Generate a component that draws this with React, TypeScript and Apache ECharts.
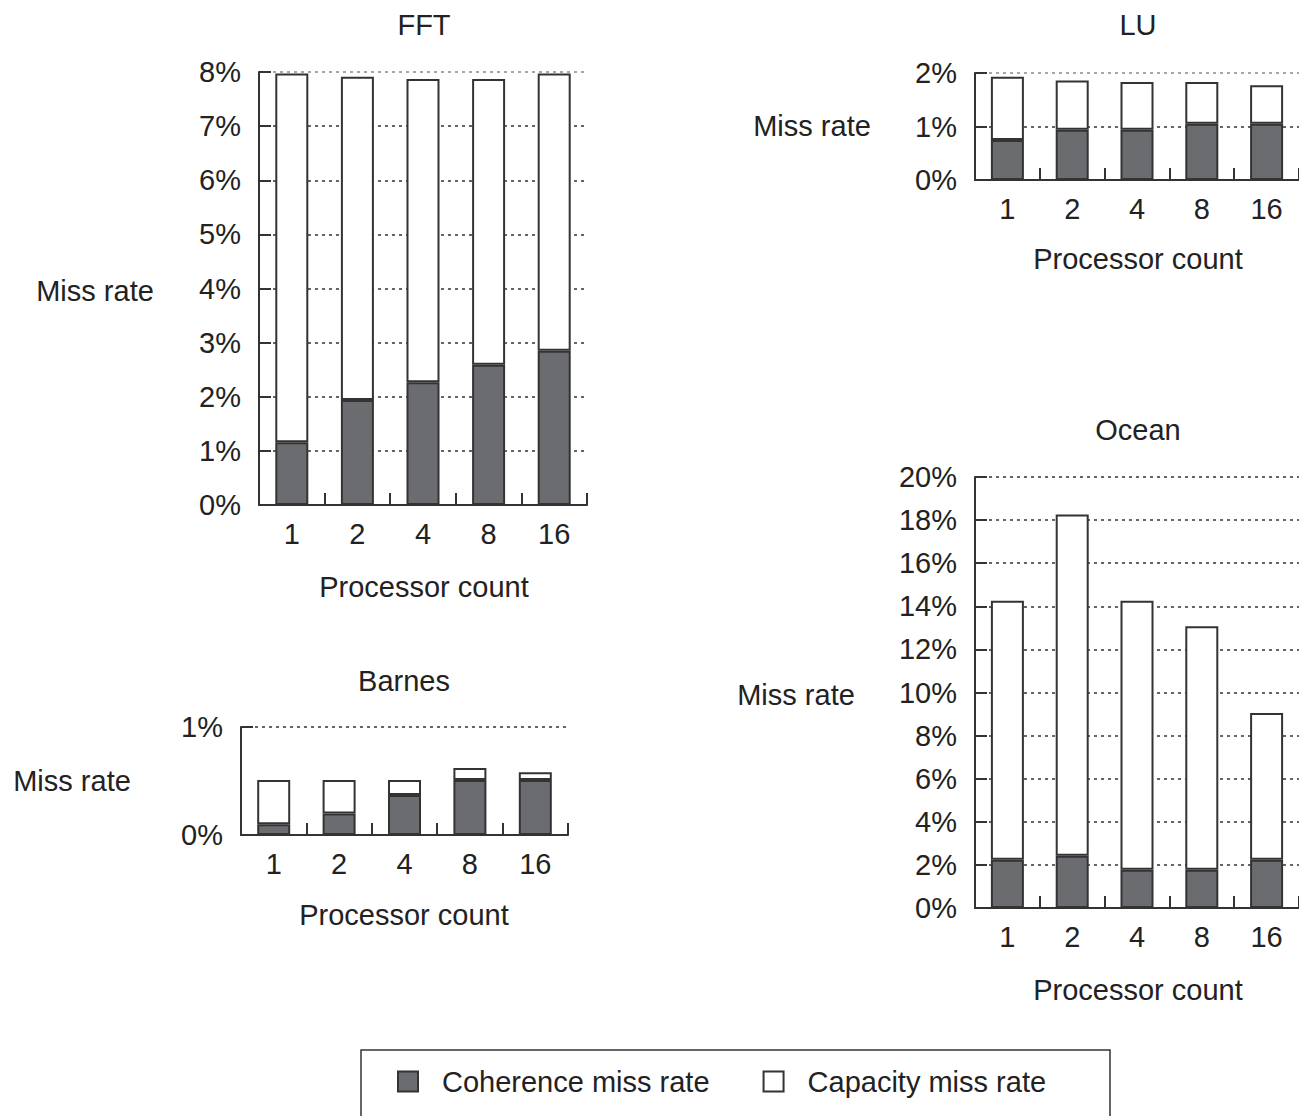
import React, { useEffect, useRef } from "react";
import * as echarts from "echarts";

const categories = ["1", "2", "4", "8", "16"];

const fftCoherence = [1.16, 1.94, 2.27, 2.59, 2.85];
const fftCapacity = [6.81, 5.97, 5.6, 5.28, 5.12];

const luCoherence = [0.75, 0.94, 0.94, 1.05, 1.05];
const luCapacity = [1.18, 0.92, 0.89, 0.78, 0.72];

const barnesCoherence = [0.1, 0.2, 0.37, 0.51, 0.51];
const barnesCapacity = [0.41, 0.31, 0.14, 0.11, 0.07];

const oceanCoherence = [2.24, 2.42, 1.78, 1.78, 2.24];
const oceanCapacity = [12.02, 15.84, 12.48, 11.3, 6.81];

const seriesNames = ["Coherence miss rate", "Capacity miss rate"];
const titles = ["FFT", "LU", "Barnes", "Ocean"];
const yAxisName = "Miss rate";
const xAxisName = "Processor count";

const FONT = '"Liberation Sans", Arial, Helvetica, sans-serif';
const TEXT = "#222";
const LINE = "#333";
const DARK = "#6b6c70";

export default function App() {
  const ref = useRef<HTMLDivElement>(null);

  useEffect(() => {
    if (!ref.current) return;
    const chart = echarts.init(ref.current, null, { renderer: "svg" });

    const panels = [
      { title: titles[0], coh: fftCoherence, cap: fftCapacity, max: 8, interval: 1, left: 259, top: 72, width: 328, height: 433, topGray: true, yNameX: 95, cx: 424 },
      { title: titles[1], coh: luCoherence, cap: luCapacity, max: 2, interval: 1, left: 975, top: 73, width: 325, height: 107, topGray: true, yNameX: 812, cx: 1138 },
      { title: titles[2], coh: barnesCoherence, cap: barnesCapacity, max: 1, interval: 1, left: 241, top: 727, width: 327, height: 108, topGray: false, yNameX: 72, cx: 404 },
      { title: titles[3], coh: oceanCoherence, cap: oceanCapacity, max: 20, interval: 2, left: 975, top: 477, width: 325, height: 431, topGray: false, yNameX: 796, cx: 1138 },
    ];
    const titleY = [25, 25, 681, 430];
    const xNameY = [587, 259, 915, 990];
    const yNameY = [291, 126, 781, 695];

    const grid: any[] = [];
    const xAxis: any[] = [];
    const yAxis: any[] = [];
    const series: any[] = [];
    const graphic: any[] = [];

    panels.forEach((p, i) => {
      grid.push({ left: p.left, top: p.top, width: p.width, height: p.height, containLabel: false });
      xAxis.push({
        type: "category",
        gridIndex: i,
        data: categories,
        boundaryGap: true,
        axisLine: { lineStyle: { color: LINE, width: 2 } },
        axisTick: { show: true, inside: true, length: 12, lineStyle: { color: LINE, width: 2 } },
        axisLabel: { color: TEXT, fontSize: 29, fontFamily: FONT, margin: 14 },
        splitLine: { show: false },
      });
      const nLines = Math.round(p.max / p.interval) + 1;
      const colors: string[] = [];
      for (let k = 0; k < nLines; k++) colors.push(k === nLines - 1 && p.topGray ? "#8a8a8a" : LINE);
      yAxis.push({
        type: "value",
        gridIndex: i,
        min: 0,
        max: p.max,
        interval: p.interval,
        axisLine: { show: true, lineStyle: { color: LINE, width: 2 } },
        axisTick: { show: true, inside: true, length: 12, lineStyle: { color: LINE, width: 2 } },
        axisLabel: { color: TEXT, fontSize: 29, fontFamily: FONT, margin: 18, formatter: "{value}%" },
        splitLine: { show: true, lineStyle: { color: colors, width: 1.5, type: [3, 4] } },
      });
      series.push({
        type: "bar",
        name: seriesNames[0],
        xAxisIndex: i,
        yAxisIndex: i,
        stack: "s" + i,
        barWidth: 33,
        data: p.coh,
        itemStyle: { color: DARK, borderColor: LINE, borderWidth: 2 },
      });
      series.push({
        type: "bar",
        name: seriesNames[1],
        xAxisIndex: i,
        yAxisIndex: i,
        stack: "s" + i,
        barWidth: 33,
        data: p.cap,
        itemStyle: { color: "#ffffff", borderColor: LINE, borderWidth: 2 },
      });
      const font = { fill: TEXT, fontSize: 29, fontFamily: FONT, align: "center", verticalAlign: "middle" };
      graphic.push({ type: "text", x: p.cx, y: titleY[i], style: { text: p.title, ...font } });
      graphic.push({ type: "text", x: p.cx, y: xNameY[i], style: { text: xAxisName, ...font } });
      graphic.push({ type: "text", x: p.yNameX, y: yNameY[i], style: { text: yAxisName, ...font } });
    });

    graphic.push({
      type: "rect",
      shape: { x: 361, y: 1050, width: 749, height: 120 },
      style: { fill: "none", stroke: LINE, lineWidth: 1.5 },
    });

    chart.setOption({
      animation: false,
      backgroundColor: "#ffffff",
      grid,
      xAxis,
      yAxis,
      series,
      graphic,
      legend: {
        left: 392,
        top: 1062,
        itemWidth: 20,
        itemHeight: 20,
        itemGap: 53,
        icon: "rect",
        data: [
          { name: seriesNames[0], itemStyle: { color: DARK, borderColor: LINE, borderWidth: 2 } },
          { name: seriesNames[1], itemStyle: { color: "#ffffff", borderColor: LINE, borderWidth: 2 } },
        ],
        textStyle: { color: TEXT, fontSize: 29, fontFamily: FONT, padding: [0, 0, 0, 19] },
        selectedMode: false,
      },
    });

    return () => chart.dispose();
  }, []);

  return (
    <div
      ref={ref}
      style={{ position: "absolute", left: 0, top: 0, width: 1299, height: 1116 }}
    />
  );
}
